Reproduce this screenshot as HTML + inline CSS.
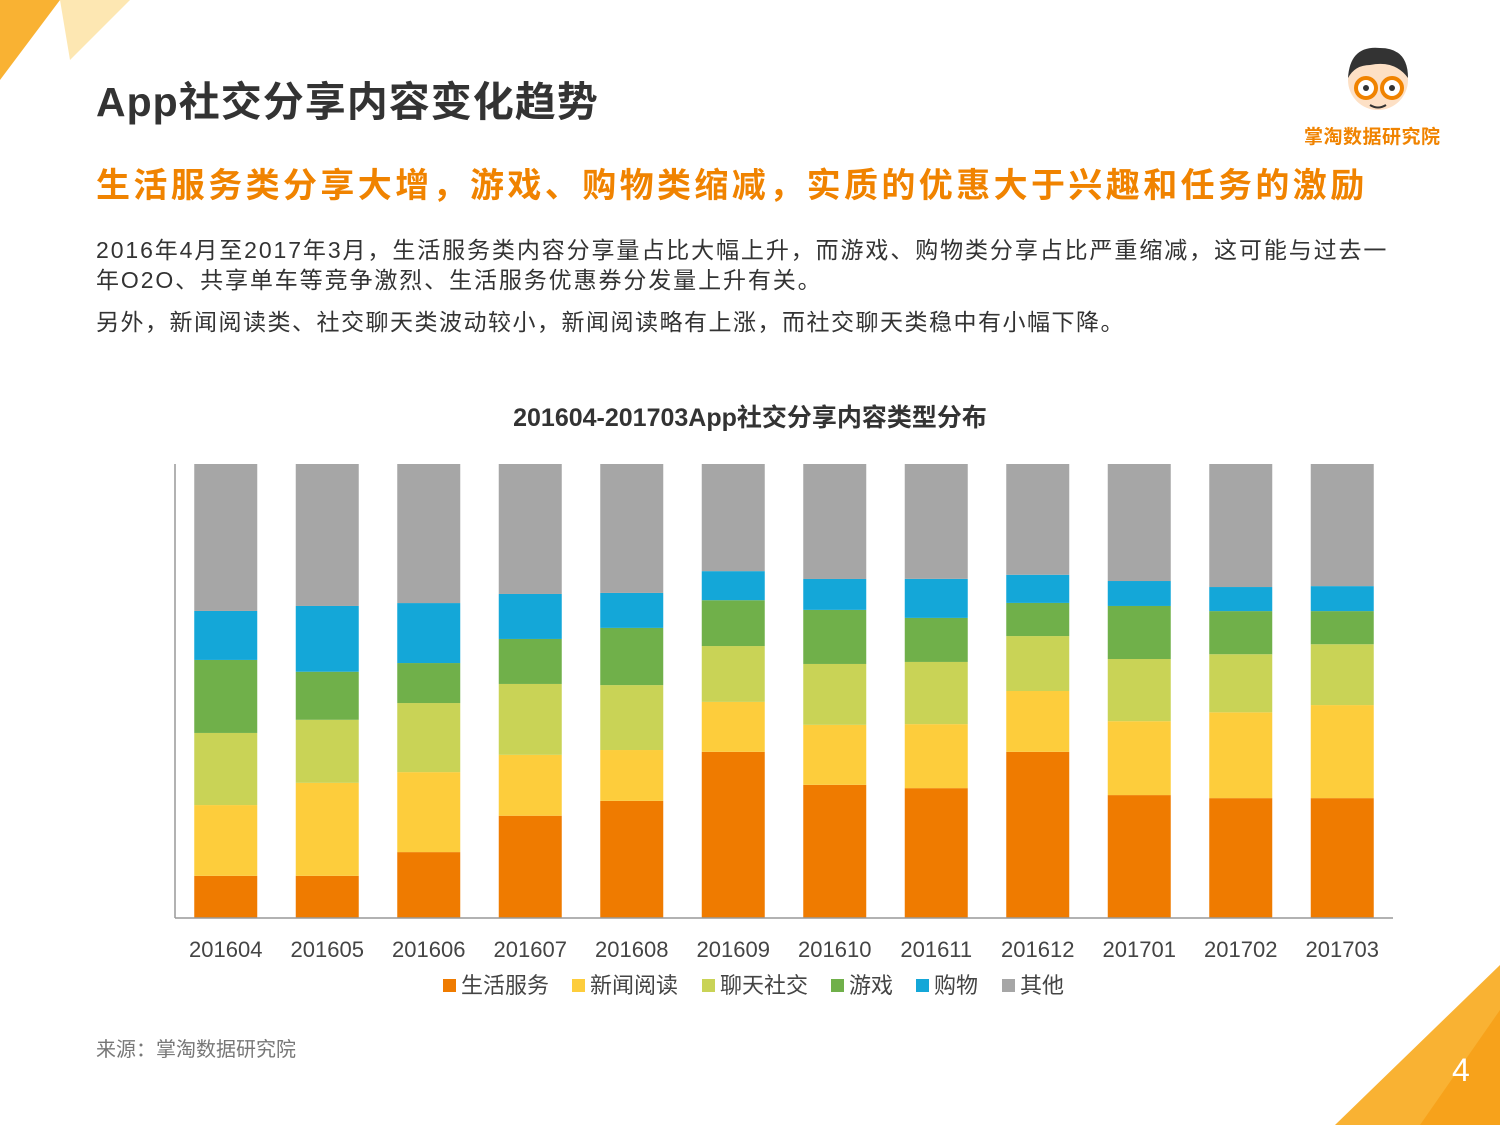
<!DOCTYPE html>
<html><head><meta charset="utf-8">
<style>
body{margin:0;width:1500px;height:1125px;background:#fff;overflow:hidden;position:relative;font-family:"Liberation Sans","Noto Sans CJK SC",sans-serif;}
.abs{position:absolute;}
</style></head>
<body>
<svg class="abs" style="left:0;top:0" width="1500" height="1125">
<polygon points="0,0 60,0 0,80" fill="#f9b233"/>
<polygon points="60,0 130,0 70,60" fill="#fcd77f" opacity="0.6"/>
<polygon points="1500,965 1500,1125 1335,1125" fill="#f9b233"/>
<polygon points="1500,1010 1500,1125 1420,1125" fill="#f7a21b"/>
</svg>
<div class="abs" style="left:96px;top:68px;font-size:41px;letter-spacing:1px;font-weight:bold;color:#333;">App社交分享内容变化趋势</div>
<div class="abs" style="left:96px;top:158px;font-size:34px;letter-spacing:3.4px;font-weight:bold;color:#f08300;white-space:nowrap;">生活服务类分享大增，游戏、购物类缩减，实质的优惠大于兴趣和任务的激励</div>
<div class="abs" style="left:96px;top:235px;width:1320px;font-size:23px;line-height:30px;color:#333;white-space:nowrap;letter-spacing:1.9px;">2016年4月至2017年3月，生活服务类内容分享量占比大幅上升，而游戏、购物类分享占比严重缩减，这可能与过去一<br>年O2O、共享单车等竞争激烈、生活服务优惠券分发量上升有关。<div style="margin-top:12px;letter-spacing:1.5px">另外，新闻阅读类、社交聊天类波动较小，新闻阅读略有上涨，而社交聊天类稳中有小幅下降。</div></div>
<div class="abs" style="left:1300px;top:40px;width:160px;height:110px;">
<svg width="160" height="80"><circle cx="78" cy="40" r="30" fill="#fde0c5"/><path d="M48,38 Q50,5 80,8 Q108,8 108,38 Q95,20 70,25 Q55,25 48,38Z" fill="#333"/><circle cx="66" cy="48" r="10" fill="#fff" stroke="#f08300" stroke-width="4"/><circle cx="92" cy="48" r="10" fill="#fff" stroke="#f08300" stroke-width="4"/><circle cx="66" cy="48" r="3" fill="#333"/><circle cx="92" cy="48" r="3" fill="#333"/><path d="M70,65 Q78,70 86,65" stroke="#333" stroke-width="2" fill="none"/></svg>
<div style="position:absolute;left:4px;top:82px;font-size:19px;font-weight:bold;color:#f08300;letter-spacing:0.5px;">掌淘数据研究院</div></div>
<div class="abs" style="left:0;width:1500px;text-align:center;top:398px;font-size:25px;font-weight:bold;color:#333;">201604-201703App社交分享内容类型分布</div>
<svg id="chart" class="abs" style="left:0;top:0" width="1500" height="1125"></svg>
<div class="abs" style="left:96px;top:1033px;font-size:20px;color:#777;">来源：掌淘数据研究院</div>
<div class="abs" style="left:1452px;top:1052px;font-size:32px;color:#fff;">4</div>
<script>
const categories=["201604","201605","201606","201607","201608","201609","201610","201611","201612","201701","201702","201703"];
const seriesNames=["生活服务","新闻阅读","聊天社交","游戏","购物","其他"];
const life=[9.3,9.3,14.5,22.5,25.8,36.6,29.3,28.6,36.6,27.1,26.4,26.4];
const news=[15.6,20.5,17.6,13.4,11.2,11.0,13.2,14.1,13.4,16.3,18.9,20.5];
const chat=[15.9,13.9,15.2,15.6,14.3,12.3,13.4,13.7,12.1,13.7,12.8,13.4];
const game=[16.1,10.6,8.8,9.9,12.6,10.1,11.9,9.7,7.3,11.7,9.5,7.3];
const shop=[10.8,14.5,13.2,9.9,7.7,6.4,6.8,8.6,6.2,5.5,5.3,5.5];
const other=[32.4,31.3,30.6,28.6,28.4,23.6,25.3,25.3,24.4,25.8,27.1,26.9];
const series=[life,news,chat,game,shop,other];
const colors=["#ef7b00","#fdcd3c","#c9d356","#70b04a","#14a7d8","#a6a6a6"];
const NS="http://www.w3.org/2000/svg";
const svg=document.getElementById("chart");
const X0=175,X1=1393,Y0=918,Y1=464;
const band=(X1-X0)/categories.length,bw=63;
const xc=i=>X0+band*(i+0.5);
const y=v=>Y0-(v/100)*(Y0-Y1);
function el(t,a){const e=document.createElementNS(NS,t);for(const k in a)e.setAttribute(k,a[k]);svg.appendChild(e);return e;}
categories.forEach((c,i)=>{
 const tot=series.reduce((s,a)=>s+a[i],0);let cum=0;
 series.forEach((arr,s)=>{
  const v=arr[i]/tot*100;
  const r=el("rect",{x:xc(i)-bw/2,y:y(cum+v),width:bw,height:y(cum)-y(cum+v),fill:colors[s]});
  
  
  cum+=v;
 });
 const t=el("text",{x:xc(i),y:957,"text-anchor":"middle","font-size":22,fill:"#444"});
 t.textContent=c;
 
 
});
const ax=el("line",{x1:X0,y1:Y0,x2:X1,y2:Y0,stroke:"#999","stroke-width":1.5});


const ay=el("line",{x1:X0,y1:Y1,x2:X0,y2:Y0,stroke:"#999","stroke-width":1.5});


const lx=[443,572,702,831,916,1002];
seriesNames.forEach((n,s)=>{
 const r=el("rect",{x:lx[s],y:979,width:13,height:13,fill:colors[s]});
 
 
 const t=el("text",{x:lx[s]+18,y:993,"font-size":22,fill:"#444"});
 t.textContent=n;
 
 
});
</script>
</body></html>
